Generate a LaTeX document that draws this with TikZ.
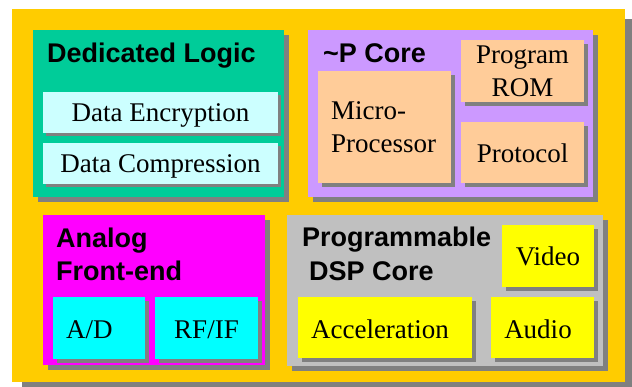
\documentclass[tikz,border=0pt]{standalone}
\usepackage{fontspec}
\setmainfont{Liberation Serif}
\newfontfamily\headfont{Liberation Sans}
\usetikzlibrary{shadows}
\definecolor{chiporange}{HTML}{FFCC00}
\definecolor{dlgreen}{HTML}{00CC99}
\definecolor{lcyan}{HTML}{CCFFFF}
\definecolor{upurple}{HTML}{CC99FF}
\definecolor{peach}{HTML}{FFCC99}
\definecolor{magen}{HTML}{FF00FF}
\definecolor{cyanb}{HTML}{00FFFF}
\definecolor{dspgray}{HTML}{C0C0C0}
\definecolor{yel}{HTML}{FFFF00}
\definecolor{shadowgray}{HTML}{808080}
\tikzset{
  blk/.style={rectangle, draw=none, inner sep=0pt, outer sep=0pt, anchor=north west},
  sh/.style={drop shadow={shadow xshift=#1pt, shadow yshift=-#1pt, fill=shadowgray, opacity=1}},
  head/.style={inner sep=0pt, font=\headfont\bfseries\fontsize{27}{33}\selectfont},
  body/.style={inner sep=0pt, font=\fontsize{27}{33}\selectfont},
}
\begin{document}
\begin{tikzpicture}[x=1pt,y=-1pt]
\fill[white] (0,0) rectangle (632,387);
\useasboundingbox (0,0) rectangle (632,387);
% chip
\node[blk, sh=10, fill=chiporange, minimum width=613pt, minimum height=373pt] (chip) at (12,9) {};
% dedicated logic
\node[blk, sh=5, fill=dlgreen, minimum width=251pt, minimum height=167pt] (dl) at (33,30) {};
\node[blk, sh=3, fill=lcyan, minimum width=235pt, minimum height=41pt] (enc) at (43,92) {};
\node[blk, sh=3, fill=lcyan, minimum width=235pt, minimum height=41pt] (cmp) at (43,143) {};
\node[head, anchor=base west] (dlt) at (47,63) {Dedicated Logic};
\node[body, anchor=base] (enct) at (160.5,121.7) {Data Encryption};
\node[body, anchor=base] (cmpt) at (160.5,172.7) {Data Compression};
% uP core
\node[blk, sh=5, fill=upurple, minimum width=285pt, minimum height=167pt] (up) at (308,30) {};
\node[blk, sh=4, fill=peach, minimum width=133pt, minimum height=112pt] (mp) at (318,71) {};
\node[blk, sh=4, fill=peach, minimum width=123pt, minimum height=62pt] (rom) at (461,40) {};
\node[blk, sh=4, fill=peach, minimum width=123pt, minimum height=61pt] (prot) at (461,122) {};
\node[head, anchor=base west] (upt) at (323,63) {\textasciitilde P Core};
\node[body, anchor=base west] (mpt1) at (331,120) {Micro-};
\node[body, anchor=base west] (mpt2) at (331,153) {Processor};
\node[body, anchor=base] (romt1) at (522.5,64) {Program};
\node[body, anchor=base] (romt2) at (522.5,97) {ROM};
\node[body, anchor=base] (prott) at (522.5,163) {Protocol};
% analog front-end
\node[blk, sh=5, fill=magen, minimum width=222pt, minimum height=150pt] (afe) at (43,215) {};
\node[blk, sh=4, fill=cyanb, minimum width=92pt, minimum height=62pt] (ad) at (53,297) {};
\node[blk, sh=4, fill=cyanb, minimum width=103pt, minimum height=62pt] (rf) at (155,297) {};
\node[head, anchor=base west] (afet1) at (56,248) {Analog};
\node[head, anchor=base west] (afet2) at (56,281) {Front-end};
\node[body, anchor=base west] (adt) at (66,338) {A/D};
\node[body, anchor=base] (rft) at (206.5,338) {RF/IF};
% DSP core
\node[blk, sh=5, fill=dspgray, minimum width=316pt, minimum height=151pt] (dsp) at (287,215) {};
\node[blk, sh=4, fill=yel, minimum width=92pt, minimum height=62pt] (vid) at (502,225) {};
\node[blk, sh=4, fill=yel, minimum width=174pt, minimum height=61pt] (acc) at (298,297) {};
\node[blk, sh=4, fill=yel, minimum width=103pt, minimum height=61pt] (aud) at (491,297) {};
\node[head, anchor=base west] (dspt1) at (302,247) {Programmable};
\node[head, anchor=base west] (dspt2) at (309,281) {DSP Core};
\node[body, anchor=base] (vidt) at (548,266) {Video};
\node[body, anchor=base] (acct) at (380,338) {Acceleration};
\node[body, anchor=base] (audt) at (538,338) {Audio};
\end{tikzpicture}
\end{document}
